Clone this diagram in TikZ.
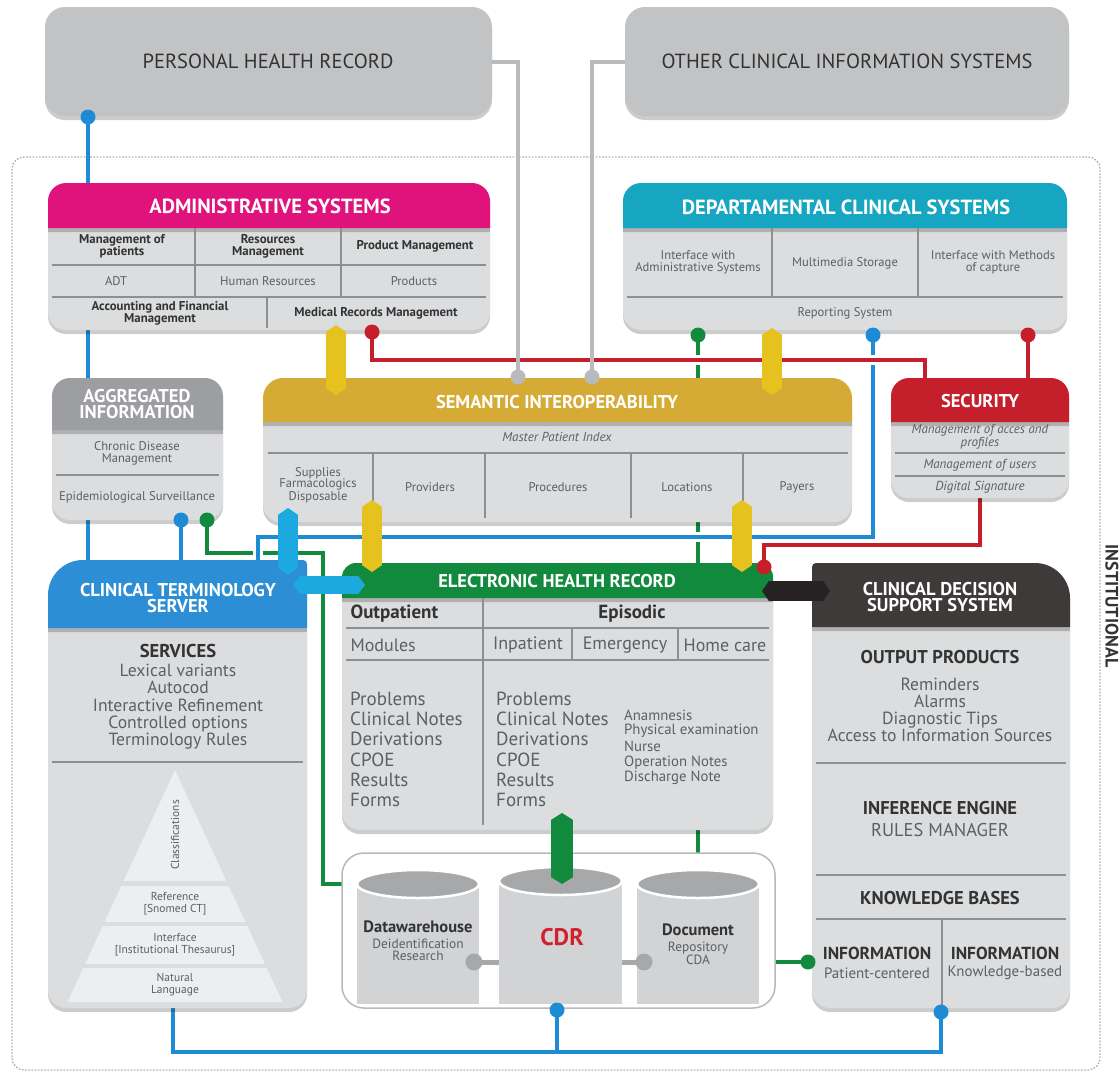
\documentclass[tikz,border=0pt]{standalone}
\usepackage{fontspec}
\setmainfont{PT Sans}
\usetikzlibrary{arrows.meta,shadows}
\pgfdeclarelayer{bg}
\pgfsetlayers{bg,main}
\definecolor{bodygray}{HTML}{DCDDDF}
\definecolor{phrgray}{HTML}{C2C3C5}
\definecolor{admincol}{HTML}{E0137C}
\definecolor{deptcol}{HTML}{17A6C1}
\definecolor{semcol}{HTML}{D6AB35}
\definecolor{yel}{HTML}{E6C21F}
\definecolor{seccol}{HTML}{C61F2C}
\definecolor{aggcol}{HTML}{9C9EA1}
\definecolor{ctscol}{HTML}{2C8ED4}
\definecolor{cyanarr}{HTML}{1BA9DF}
\definecolor{bluln}{HTML}{1E8BD5}
\definecolor{ehrcol}{HTML}{128A3D}
\definecolor{cdsscol}{HTML}{3E3A39}
\definecolor{blackarr}{HTML}{262223}
\definecolor{gridln}{HTML}{8E8F91}
\definecolor{txt}{HTML}{333333}
\definecolor{txtl}{HTML}{5E5F61}
\definecolor{grayln}{HTML}{B9BABC}
\definecolor{cyltop}{HTML}{A6A8AA}
\definecolor{cylbody}{HTML}{D2D3D5}
\definecolor{pyr}{HTML}{EDEEEF}
\definecolor{cdrred}{HTML}{D0212E}
% name, x1, y1, x2, y2, header bottom, header colour, top-left radius, top-right radius
\newcommand\panel[9]{%
  \fill[bodygray,shd] ({#2},{#6}) -- ({#2},{#5-18}) .. controls ({#2},{#5-8}) and ({#2+8},{#5}) .. ({#2+18},{#5})
     -- ({#4-18},{#5}) .. controls ({#4-8},{#5}) and ({#4},{#5-8}) .. ({#4},{#5-18}) -- ({#4},{#6}) -- cycle;
  \fill[#7,shd] ({#2},{#6}) -- ({#2},{#3+#8}) .. controls ({#2},{#3+0.45*#8}) and ({#2+0.45*#8},{#3}) .. ({#2+#8},{#3})
     -- ({#4-#9},{#3}) .. controls ({#4-0.45*#9},{#3}) and ({#4},{#3+0.45*#9}) .. ({#4},{#3+#9}) -- ({#4},{#6}) -- cycle;
  \node[inner sep=0pt,minimum width={(#4-#2)*1pt},minimum height={(#5-#3)*1pt},anchor=north west] (#1) at (#2,#3) {};
}
\newcommand\cyl[4]{%
  \fill[cylbody] (#2,#4) rectangle (#3,1004);
  \draw[white,line width=2.5pt,fill=cyltop] ({(#2+#3)/2},#4) ellipse [x radius={(#3-#2)/2*1pt}, y radius=14pt];
  \node[inner sep=0pt,minimum width={(#3-#2)*1pt},minimum height={(1004-#4)*1pt},anchor=north west] (#1) at (#2,#4) {};
}
\begin{document}
\begin{tikzpicture}[x=1pt,y=-1pt,
  shd/.style={drop shadow={shadow xshift=0pt,shadow yshift=-4pt,opacity=0.2,fill=black}},
  ln/.style={line width=4pt},
  halo/.style={preaction={draw=white,line width=10pt}},
  gridl/.style={draw=gridln,line width=1.1pt},
  dbl/.style={line width=#1,arrows={Triangle[length=7pt,width=0pt 1]-Triangle[length=7pt,width=0pt 1]}},
  toptxt/.style={text=txt,font=\fontsize{20.5}{22}\selectfont},
  hbig/.style={text=white,font=\bfseries\fontsize{20.5}{21}\selectfont,align=center},
  hmid/.style={text=white,font=\bfseries\fontsize{18.5}{16.5}\selectfont,align=center},
  cb/.style={text=txt,font=\bfseries\fontsize{12.8}{12}\selectfont,align=center},
  cr/.style={text=txtl,font=\fontsize{12.6}{12}\selectfont,align=center},
  ci/.style={text=txtl,font=\itshape\fontsize{13}{11.5}\selectfont,align=center},
  bigr/.style={text=txtl,inner sep=0pt,font=\fontsize{19}{20}\selectfont},
  bigb/.style={text=txt,font=\bfseries\fontsize{19}{20}\selectfont},
  modr/.style={text=txtl,font=\fontsize{18}{19}\selectfont},
  midr/.style={text=txtl,font=\fontsize{18.5}{19}\selectfont},
  listr/.style={text=txtl,inner sep=0pt,text height=12pt,text depth=3.5pt,font=\fontsize{17.6}{17}\selectfont},
  midb/.style={text=txt,font=\bfseries\fontsize{18.5}{19}\selectfont},
  smr/.style={text=txtl,inner sep=0pt,font=\fontsize{14.8}{15}\selectfont},
  tiny/.style={text=txtl,font=\fontsize{11.5}{12}\selectfont,align=center}
]
\useasboundingbox (0,0) rectangle (1119,1076);

% dot positions
\coordinate (phrbd) at (88,117);
\coordinate (sg1) at (518,377);
\coordinate (sg2) at (592,377);
\coordinate (admrd) at (372,332);
\coordinate (deptgd) at (698,335);
\coordinate (deptbd) at (873,335);
\coordinate (deptrd) at (1028,335);
\coordinate (aggbd) at (181,520);
\coordinate (agggd) at (207,520);
\coordinate (ehrrd) at (764,567);
\coordinate (cdssgd) at (808,962);
\coordinate (cdrbd) at (557,1010);
\coordinate (cdssbd) at (941,1012);
\coordinate (dwgd) at (474,962);
\coordinate (docgd) at (644,962);

% top boxes
\fill[phrgray,rounded corners=20pt,shd] (45,7) rectangle (492,116);
\node[inner sep=0pt,minimum width=447pt,minimum height=109pt,anchor=north west] (phr) at (45,7) {};
\node[toptxt] at (268,61) {PERSONAL HEALTH RECORD};
\fill[phrgray,rounded corners=20pt,shd] (625,7) rectangle (1069,116);
\node[inner sep=0pt,minimum width=444pt,minimum height=109pt,anchor=north west] (ocis) at (625,7) {};
\node[toptxt] at (847,61) {OTHER CLINICAL INFORMATION SYSTEMS};

% panels
\panel{admin}{48}{183}{490}{330}{228}{admincol}{18}{18}
\panel{dept}{623}{183}{1067}{330}{228}{deptcol}{18}{18}
\panel{agg}{52}{378}{223}{520}{430}{aggcol}{18}{18}
\panel{sem}{263}{378}{852}{522}{422}{semcol}{20}{20}
\panel{sec}{891}{378}{1069}{498}{422}{seccol}{18}{18}
\panel{cts}{48}{560}{307}{1008}{628}{ctscol}{35}{4}
\panel{ehr}{342}{563}{773}{830}{598}{ehrcol}{14}{14}
\panel{cdss}{812}{563}{1070}{1008}{627}{cdsscol}{4}{35}

% CDR container
\draw[draw=gray!55,line width=1.5pt,fill=white,rounded corners=22pt] (342,853) rectangle (775,1008);
\node[inner sep=0pt,minimum width=433pt,minimum height=155pt,anchor=north west] (cdrbox) at (342,853) {};
\cyl{dw}{357}{479}{884}
\cyl{cdr}{499}{622}{881}
\cyl{doc}{637}{759}{884}

% ---------- connectors (behind) ----------
\begin{pgfonlayer}{bg}
\draw[gray!65,line width=1.3pt,dash pattern=on 1.6pt off 1.6pt,rounded corners=12pt] (12,157) rectangle (1100,1070);
% green
\draw[ln,ehrcol] (agggd) |- (323,553) -- (323,884) -- (cdrbox.west |- 0,884);
\draw[ln,ehrcol] (deptgd) -- (deptgd |- cdrbox.north);
\draw[ln,ehrcol] (cdrbox.east |- cdssgd) -- (cdssgd);
% blue
\draw[ln,bluln] (phrbd) -- (phrbd |- admin.north);
\draw[ln,bluln] (admin.south -| 88,0) -- (agg.north -| 88,0);
\draw[ln,bluln] (agg.south -| 88,0) -- (cts.north -| 88,0);
\draw[ln,bluln] (aggbd) -- (aggbd |- cts.north);
\draw[ln,bluln,halo] (cts.north -| 258,0) |- (873,537) -- (deptbd);
\draw[ln,bluln] (cts.south -| 173,0) |- (941,1052) -- (cdssbd);
\draw[ln,bluln] (cdrbd) -- (557,1052);
% red
\draw[ln,seccol,halo] (admrd) |- (925,360) -- (sec.north -| 925,0);
\draw[ln,seccol] (deptrd) -- (sec.north -| deptrd);
\draw[ln,seccol] (sec.south -| 980,0) |- (764,545) -- (ehrrd);
% gray
\draw[ln,grayln] (phr.east |- 0,62) -| (sg1);
\draw[ln,grayln] (ocis.west |- 0,62) -| (sg2);
\end{pgfonlayer}

% ---------- grid lines ----------
\draw[gridl] (52,265) -- (486,265);
\draw[gridl] (52,297) -- (486,297);
\draw[gridl] (195,228) -- (195,297);
\draw[gridl] (341,228) -- (341,297);
\draw[gridl] (267,297) -- (267,328);
\draw[gridl] (627,297) -- (1063,297);
\draw[gridl] (772,228) -- (772,297);
\draw[gridl] (918,228) -- (918,297);
\draw[gridl] (56,475) -- (219,475);
\draw[gridl] (268,453) -- (848,453);
\foreach \x in {373,485,631,743} \draw[gridl] (\x,453) -- (\x,518);
\draw[gridl] (895,453) -- (1065,453);
\draw[gridl] (895,476) -- (1065,476);
\draw[gridl] (52,762) -- (303,762);
\draw[gridl] (346,628) -- (769,628);
\draw[gridl] (346,660) -- (769,660);
\draw[gridl] (483,598) -- (483,825);
\draw[gridl] (572,628) -- (572,660);
\draw[gridl] (678,628) -- (678,660);
\draw[gridl] (816,763) -- (1066,763);
\draw[gridl] (816,875) -- (1066,875);
\draw[gridl] (816,919) -- (1066,919);
\draw[gridl] (942,919) -- (942,1005);

% ---------- pyramid ----------
\fill[pyr] (175,770) -- (226.4,881) -- (123.6,881) -- cycle;
\fill[pyr] (121.3,886) -- (228.7,886) -- (245.4,922) -- (104.6,922) -- cycle;
\fill[pyr] (102.7,926) -- (247.3,926) -- (264.9,964) -- (85.1,964) -- cycle;
\fill[pyr] (83.3,968) -- (266.7,968) -- (282.5,1002) -- (67.5,1002) -- cycle;
\node[tiny,rotate=90] at (175,835) {Classifications};
\node[tiny] at (175,904) {Reference\\{[}Snomed CT{]}};
\node[tiny] at (175,945) {Interface\\{[}Institutional Thesaurus{]}};
\node[tiny] at (175,985) {Natural\\Language};

% ---------- texts ----------
\node[hbig] at (270,206) {ADMINISTRATIVE SYSTEMS};
\node[cb] at (122,246) {Management of\\patients};
\node[cb] at (268,246) {Resources\\Management};
\node[cb] at (415,246) {Product Management};
\node[cr] at (116,281) {ADT};
\node[cr] at (268,281) {Human Resources};
\node[cr] at (414,281) {Products};
\node[cb] at (160,313) {Accounting and Financial\\Management};
\node[cb] at (376,313) {Medical Records Management};

\node[hbig] at (846,207) {DEPARTAMENTAL CLINICAL SYSTEMS};
\node[cr] at (698,262) {Interface with\\Administrative Systems};
\node[cr] at (845,263) {Multimedia Storage};
\node[cr] at (993,262) {Interface with Methods\\of capture};
\node[cr] at (845,313) {Reporting System};

\node[hmid] at (137,404) {AGGREGATED\\INFORMATION};
\node[cr] at (137,453) {Chronic Disease\\Management};
\node[cr] at (137,497) {Epidemiological Surveillance};

\node[hmid] at (557,402) {SEMANTIC INTEROPERABILITY};
\node[ci] at (557,437) {Master Patient Index};
\node[cr,font=\fontsize{12.6}{11.5}\selectfont] at (318,485) {Supplies\\Farmacologics\\Disposable};
\node[cr] at (430,487) {Providers};
\node[cr] at (558,487) {Procedures};
\node[cr] at (687,487) {Locations};
\node[cr] at (797,487) {Payers};

\node[hmid] at (980,401) {SECURITY};
\node[ci] at (980,437) {Management of acces and\\profiles};
\node[ci] at (980,465) {Management of users};
\node[ci] at (980,487) {Digital Signature};

\node[hmid] at (178,598) {CLINICAL TERMINOLOGY\\SERVER};
\node[bigb,font=\bfseries\fontsize{18.6}{19}\selectfont] at (178,651) {SERVICES};
\foreach \t [count=\i] in {Lexical variants,Autocod,Interactive Refinement,Controlled options,Terminology Rules}
  \node[listr] at (178,655+17.25*\i) {\t};

\node[hmid] at (557,581) {ELECTRONIC HEALTH RECORD};
\node[bigb,anchor=west] at (347,614) {Outpatient};
\node[bigb] at (632,614) {Episodic};
\node[modr,anchor=west] at (347,645) {Modules};
\node[modr] at (528,645) {Inpatient};
\node[modr] at (625,645) {Emergency};
\node[modr] at (725,645) {Home care};
\foreach \t [count=\i] in {Problems,Clinical Notes,Derivations,CPOE,Results,Forms}{
  \node[bigr,anchor=west] at (350,678+20.4*\i) {\t};
  \node[bigr,anchor=west] at (496,678+20.4*\i) {\t};
}
\foreach \t [count=\i] in {Anamnesis,Physical examination,Nurse,Operation Notes,Discharge Note}
  \node[smr,anchor=west] at (624,699.25+15.75*\i) {\t};

\node[hmid] at (940,597) {CLINICAL DECISION\\SUPPORT SYSTEM};
\node[midb] at (940,657) {OUTPUT PRODUCTS};
\foreach \t [count=\i] in {Reminders,Alarms,Diagnostic Tips,Access to Information Sources}
  \node[listr] at (940,669+17*\i) {\t};
\node[midb] at (940,808) {INFERENCE ENGINE};
\node[midr] at (940,830) {RULES MANAGER};
\node[midb] at (940,898) {KNOWLEDGE BASES};
\node[midb,font=\bfseries\fontsize{17.4}{17}\selectfont] at (877,953) {INFORMATION};
\node[cr,font=\fontsize{15}{15}\selectfont] at (877,973) {Patient-centered};
\node[midb,font=\bfseries\fontsize{17.4}{17}\selectfont] at (1005,953) {INFORMATION};
\node[cr,font=\fontsize{15}{15}\selectfont] at (1005,973) {Knowledge-based};

\node[midb,font=\bfseries\fontsize{16.5}{17}\selectfont] at (418,927) {Datawarehouse};
\node[cr,font=\fontsize{13.4}{12}\selectfont] at (418,950) {Deidentification\\Research};
\node[text=cdrred,font=\bfseries\fontsize{24}{24}\selectfont] at (562,937) {CDR};
\node[midb,font=\bfseries\fontsize{16.5}{17}\selectfont] at (698,930) {Document};
\node[cr,font=\fontsize{13.4}{12}\selectfont] at (698,953) {Repository\\CDA};

\node[rotate=-90,text=txt,font=\bfseries\fontsize{18}{18}\selectfont] at (1112,606) {INSTITUTIONAL};

% ---------- CDR internal connectors ----------
\draw[line width=5pt,cyltop] (dwgd) -- (cdr.west |- dwgd);
\draw[line width=5pt,cyltop] (cdr.east |- docgd) -- (docgd);

% ---------- double arrows ----------
\draw[dbl=20pt,yel] (336,325) -- (336,395);
\draw[dbl=20pt,yel] (772,328) -- (772,395);
\draw[dbl=20pt,yel] (372,500) -- (372,572);
\draw[dbl=20pt,yel] (742,500) -- (742,572);
\draw[dbl=20pt,cyanarr] (288,508) -- (288,575);
\draw[dbl=18pt,cyanarr] (293,585) -- (365,585);
\draw[dbl=22pt,ehrcol] (562,813) -- (562,884);
\draw[dbl=20pt,blackarr] (762,591) -- (830,591);

% ---------- dots ----------
\foreach \c in {phrbd,deptbd,aggbd,cdrbd,cdssbd} \fill[bluln] (\c) circle[radius=7.5pt];
\foreach \c in {deptgd,agggd,cdssgd} \fill[ehrcol] (\c) circle[radius=7.5pt];
\foreach \c in {admrd,deptrd,ehrrd} \fill[seccol] (\c) circle[radius=7.5pt];
\foreach \c in {sg1,sg2} \fill[grayln] (\c) circle[radius=7.5pt];
\foreach \c in {dwgd,docgd} \fill[cyltop] (\c) circle[radius=8.5pt];
\end{tikzpicture}
\end{document}
